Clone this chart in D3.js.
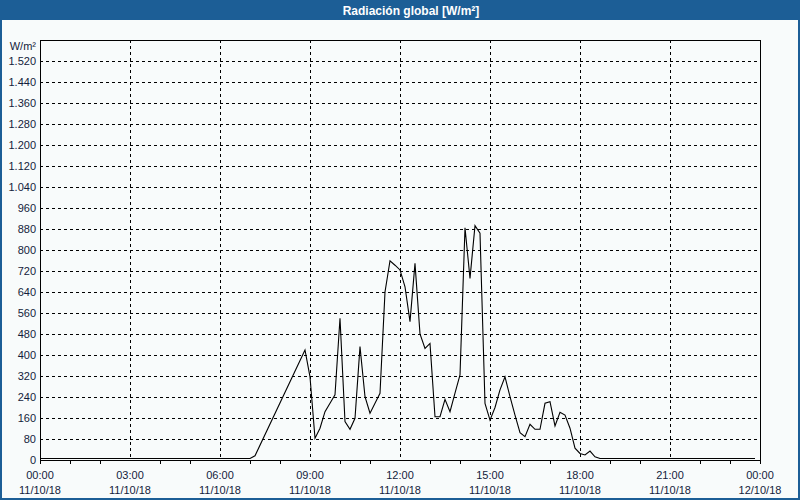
<!DOCTYPE html>
<meta charset="utf-8">
<head>
  <title>Radiación global</title>
</head>

<style>
body { margin: 0; background: #f8fbfb; }
svg { display: block; }
text {
  font-family: "Liberation Sans", Arial, sans-serif;
  font-size: 11px;
  fill: #141c3c;
}
.grid line { stroke: #000; stroke-dasharray: 3,3; shape-rendering: crispEdges; }
.frame { fill: none; stroke: #000; shape-rendering: crispEdges; }
.curve { fill: none; stroke: #000; stroke-width: 1.1; }
</style>

<body>
  <svg width="800" height="500"></svg>

  <script src="https://cdnjs.cloudflare.com/ajax/libs/d3/7.8.5/d3.min.js"></script>
  <script>
// 10-min readings (vertices of the trace), 11/10/18
var times = ["00:00","07:00","07:10","08:50","09:00","09:10","09:20","09:30","09:40","09:50",
  "10:00","10:10","10:20","10:30","10:40","10:50","11:00","11:10","11:20","11:30","11:40","11:50",
  "12:00","12:10","12:20","12:30","12:40","12:50","13:00","13:10","13:20","13:30","13:40","13:50",
  "14:00","14:10","14:20","14:30","14:40","14:50","15:00","15:10","15:20","15:30","15:40","15:50",
  "16:00","16:10","16:20","16:30","16:40","16:50","17:00","17:10","17:20","17:30","17:40","17:50",
  "18:00","18:10","18:20","18:30","18:40","23:50"];
var values = [6, 6, 16, 419, 317, 83, 121, 184, 216, 248,
  540, 146, 117, 159, 432, 241, 178, 216, 254, 640, 759, 742,
  724, 660, 527, 749, 480, 425, 444, 165, 165, 231, 184, 255,
  324, 885, 692, 893, 864, 216, 152, 200, 267, 317, 241, 171,
  104, 89, 136, 117, 117, 216, 222, 130, 182, 171, 121, 45,
  25, 19, 34, 12, 6, 6];
var yTicks = d3.range(0, 1600, 80);
var xStart = new Date(2018, 9, 11, 0, 0), xEnd = new Date(2018, 9, 12, 0, 0);

var svg = d3.select('svg');
var W = 800, H = 500;
var pL = 40, pR = 760, pT = 40, pB = 460;

var x = d3.scaleTime().domain([xStart, xEnd]).range([pL, pR]);
var y = d3.scaleLinear().domain([0, 1600]).range([pB, pT]);

var loc = d3.formatLocale({decimal: ",", thousands: ".", grouping: [3], currency: ["", ""]});
var fmtY = loc.format(",");
var fmtH = d3.timeFormat("%H:%M"), fmtD = d3.timeFormat("%d/%m/%y");

// window frame + title bar
svg.append('rect').attr('x', 1).attr('y', 1).attr('width', W - 2).attr('height', H - 2)
  .attr('fill', 'none').attr('stroke', '#1c5e96').attr('stroke-width', 2);
svg.append('rect').attr('x', 0).attr('y', 0).attr('width', W).attr('height', 20).attr('fill', '#1c5e96');
svg.append('text').attr('x', 411).attr('y', 14.5).attr('text-anchor', 'middle')
  .style('fill', '#fff').style('font-weight', 'bold').style('font-size', '12px')
  .text('Radiación global [W/m²]');

// grid
var grid = svg.append('g').attr('class', 'grid');
grid.selectAll('.h').data(yTicks.filter(function(d) { return d > 0; })).enter().append('line')
  .attr('x1', pL).attr('x2', pR)
  .attr('y1', function(d) { return Math.round(y(d)) + 0.5; })
  .attr('y2', function(d) { return Math.round(y(d)) + 0.5; });
var xMajor = d3.timeHour.every(3).range(xStart, xEnd).filter(function(d) { return +d > +xStart; });
grid.selectAll('.v').data(xMajor).enter().append('line')
  .attr('y1', pT).attr('y2', pB)
  .attr('x1', function(d) { return Math.round(x(d)) + 0.5; })
  .attr('x2', function(d) { return Math.round(x(d)) + 0.5; });

// minor hour ticks under the axis
var hours = d3.timeHour.range(xStart, new Date(+xEnd + 1)).filter(function(d) {
  return d.getHours() % 3 !== 0 || +d === +xStart || +d === +xEnd;
});
svg.append('g').selectAll('line').data(hours).enter().append('line')
  .attr('x1', function(d) { return Math.round(x(d)) + 0.5; })
  .attr('x2', function(d) { return Math.round(x(d)) + 0.5; })
  .attr('y1', pB).attr('y2', pB + 4)
  .attr('stroke', '#000').style('shape-rendering', 'crispEdges');

// frame
svg.append('rect').attr('class', 'frame')
  .attr('x', pL + 0.5).attr('y', pT + 0.5)
  .attr('width', pR - pL).attr('height', pB - pT);

// y labels
svg.append('g').selectAll('text').data(yTicks).enter().append('text')
  .attr('x', 36).attr('y', function(d) { return y(d) + 4; })
  .attr('text-anchor', 'end')
  .text(function(d) { return fmtY(d); });
svg.append('text').attr('x', 36).attr('y', 50).attr('text-anchor', 'end').text('W/m²');

// x labels
var xLab = svg.append('g').selectAll('g').data(d3.timeHour.every(3).range(xStart, new Date(+xEnd + 1)))
  .enter().append('g');
xLab.append('text').attr('x', function(d) { return x(d); }).attr('y', 479)
  .attr('text-anchor', 'middle').text(function(d) { return fmtH(d); });
xLab.append('text').attr('x', function(d) { return x(d); }).attr('y', 494)
  .attr('text-anchor', 'middle').text(function(d) { return fmtD(d); });

// series
var parse = function(t) {
  var p = t.split(':');
  return new Date(2018, 9, 11, +p[0], +p[1]);
};
var pts = times.map(function(t, i) { return [parse(t), values[i]]; });
var line = d3.line()
  .x(function(d) { return x(d[0]); })
  .y(function(d) { return y(d[1]); });
svg.append('path').attr('class', 'curve').attr('d', line(pts));
  </script>
</body>
</html>
